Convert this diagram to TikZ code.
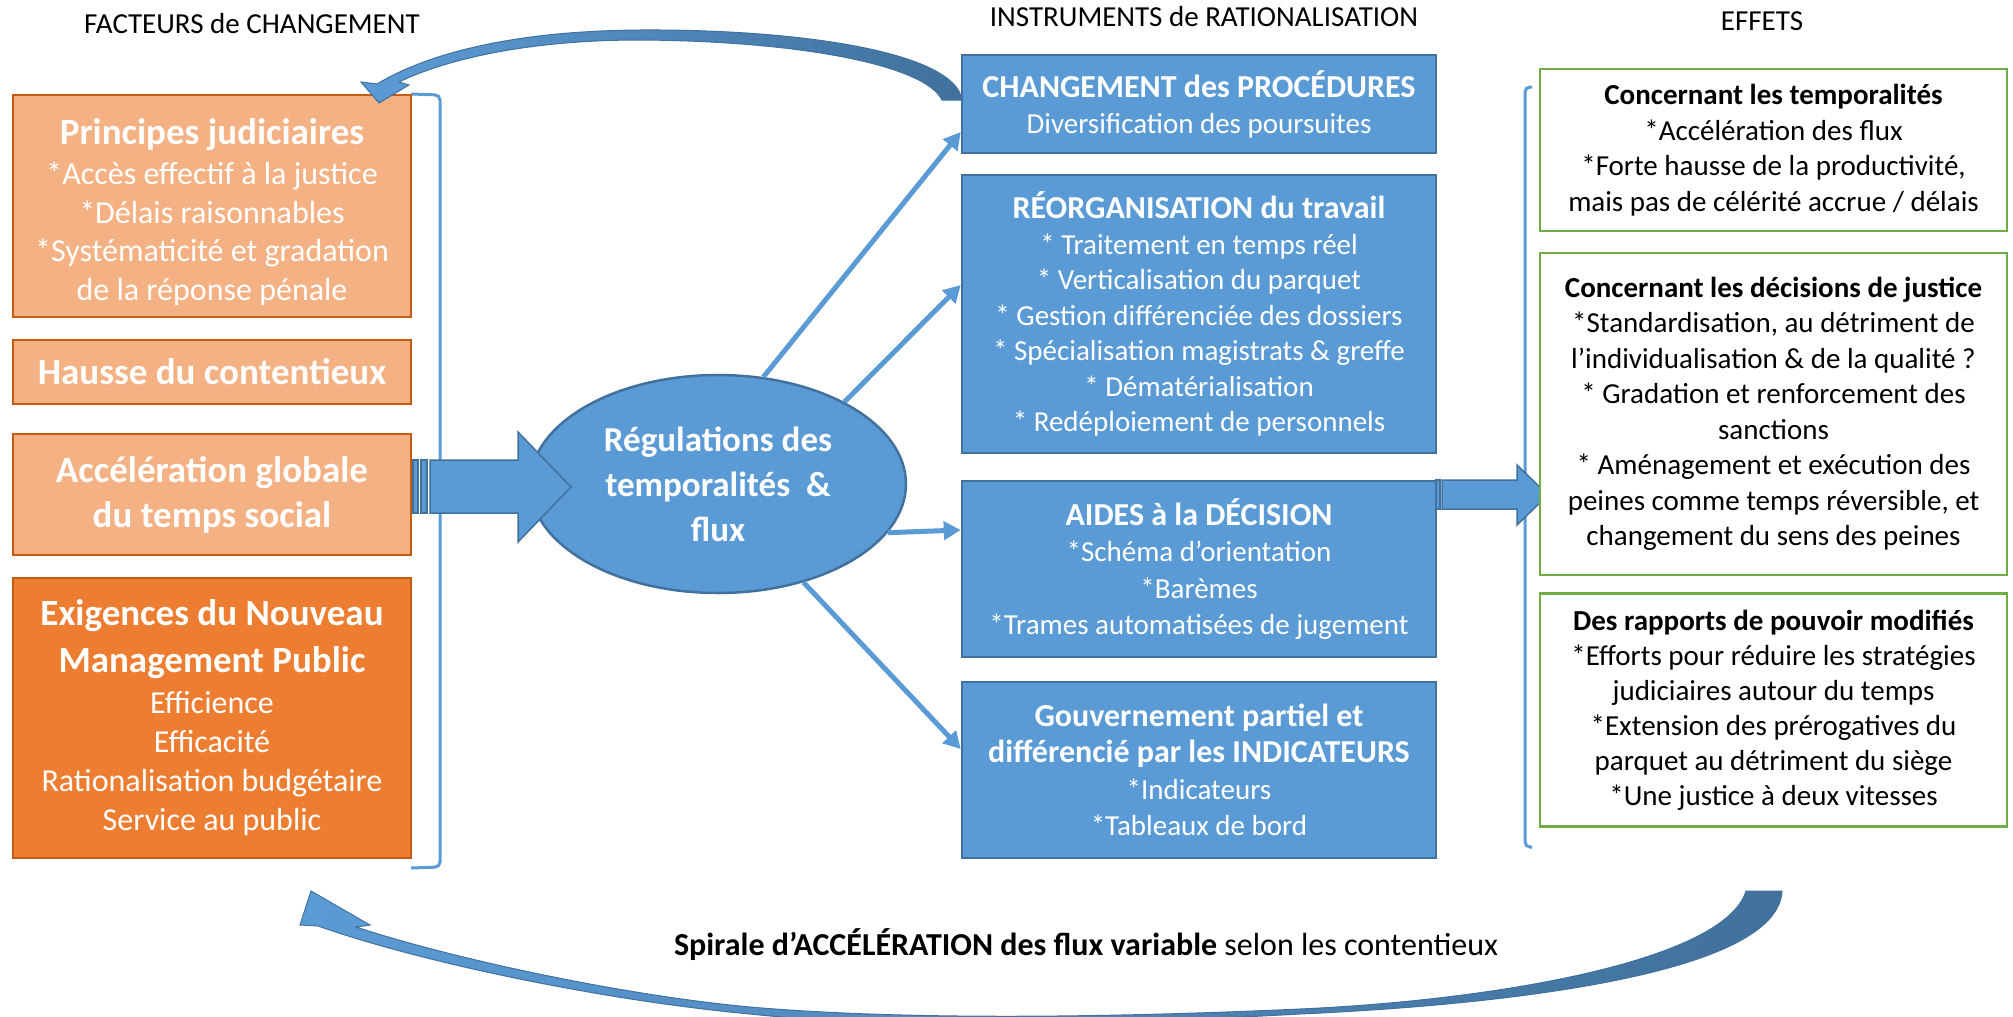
\documentclass[tikz,border=0pt]{standalone}
\usepackage{fontspec}
\setmainfont{Carlito}
\usetikzlibrary{arrows.meta,shapes.geometric,calc}
\definecolor{bfill}{HTML}{5B9BD5}
\definecolor{bdraw}{HTML}{41719C}
\definecolor{olight}{HTML}{F4B183}
\definecolor{odark}{HTML}{ED7D31}
\definecolor{odraw}{HTML}{C55A11}
\definecolor{gdraw}{HTML}{70AD47}
\begin{document}
\begin{tikzpicture}[x=1pt,y=-1pt,
  lbox/.style={draw=odraw, line width=2.5pt, fill=olight, text=white, align=center, inner sep=0pt, minimum width=398pt},
  dbox/.style={lbox, fill=odark},
  bbox/.style={draw=bdraw, line width=2.5pt, fill=bfill, text=white, align=center, inner sep=0pt, minimum width=474pt},
  gbox/.style={draw=gdraw, line width=2.5pt, fill=white, text=black, align=center, inner sep=0pt, minimum width=467pt},
  conn/.style={draw=bfill, line width=5pt, -{Triangle[length=17pt,width=18pt]}},
  brk/.style={draw=bfill, line width=3pt, rounded corners=5pt},
  bigarr/.style={fill=bfill, draw=bdraw, line width=1.5pt, line join=miter},
  hdr/.style={anchor=base, font=\fontsize{29}{35}\selectfont},
  ltitle/.style={font=\fontsize{37}{44}\selectfont\bfseries}
]
\useasboundingbox (0,0) rectangle (2013,1017);
\clip (0,0) rectangle (2013,1017);
\fill[white] (0,0) rectangle (2013,1017);

% headers
\node[hdr] (h1) at (252,33) {FACTEURS de CHANGEMENT};
\node[hdr] (h2) at (1204,26) {INSTRUMENTS de RATIONALISATION};
\node[hdr] (h3) at (1762,30) {EFFETS};

% brackets
\draw[brk] (411,94) -- (440,95) -- (440,867) -- (411,868);
\draw[brk] (1532,87) -- (1525,87) -- (1525,847) -- (1532,847);

% left column
\node[lbox, minimum height=222pt] (p1) at (212,206) {};
\node[text=white, align=center, inner sep=0pt, font=\fontsize{32}{38.5}\selectfont] (p1t) at (212,212)
  {{\fontsize{37}{44}\selectfont\bfseries Principes judiciaires}\\[2pt]
   *Accès effectif à la justice\\ *Délais raisonnables\\ *Systématicité et gradation\\ de la réponse pénale};
\node[lbox, minimum height=64pt, ltitle] (p2) at (212,372) {Hausse du contentieux};
\node[lbox, minimum height=121pt, font=\fontsize{37}{45}\selectfont\bfseries] (p3) at (212,494.5)
  {Accélération globale\\ du temps social};
\node[dbox, minimum height=280pt, font=\fontsize{32}{39}\selectfont] (p4) at (212,718)
  {{\fontsize{37}{44}\selectfont\bfseries Exigences du Nouveau}\\[8pt]
   {\fontsize{37}{44}\selectfont\bfseries Management Public}\\[2pt]
   Efficience\\ Efficacité\\ Rationalisation budgétaire\\ Service au public};

% ellipse
\node[ellipse, draw=bdraw, fill=bfill, line width=2.5pt, minimum width=376pt, minimum height=218pt,
  text=white, align=center, inner sep=0pt, font=\fontsize{35}{45}\selectfont\bfseries] (ell) at (718,484)
  {Régulations des\\ temporalités\ \ \&\\ flux};

% big arrow left -> ellipse
\draw[bigarr] (413,460) rectangle (418,513);
\draw[bigarr] (421,460) rectangle (427,513);
\draw[bigarr] (430,460) -- (518,460) -- (518,432) -- (571,487) -- (518,542) -- (518,513) -- (430,513) -- cycle;

% blue boxes
\node[bbox, minimum height=98pt, font=\fontsize{29}{36}\selectfont] (bA) at (1199,104)
  {{\fontsize{32}{38}\selectfont\bfseries CHANGEMENT des PROCÉDURES}\\
   Diversification des poursuites};
\node[bbox, minimum height=278pt, font=\fontsize{29}{35.5}\selectfont] (bB) at (1199,314)
  {{\fontsize{32}{38}\selectfont\bfseries RÉORGANISATION du travail}\\
   * Traitement en temps réel\\ * Verticalisation du parquet\\ * Gestion différenciée des dossiers\\
   * Spécialisation magistrats \& greffe\\ * Dématérialisation\\ * Redéploiement de personnels};
\node[bbox, minimum height=176pt, font=\fontsize{29}{36.5}\selectfont] (bC) at (1199,569)
  {{\fontsize{32}{38}\selectfont\bfseries AIDES à la DÉCISION}\\
   *Schéma d’orientation\\ *Barèmes\\ *Trames automatisées de jugement};
\node[bbox, minimum height=176pt, font=\fontsize{29}{36.5}\selectfont] (bD) at (1199,770)
  {{\fontsize{32}{38}\selectfont\bfseries Gouvernement partiel et}\\
   {\fontsize{32}{38}\selectfont\bfseries différencié par les INDICATEURS}\\
   *Indicateurs\\ *Tableaux de bord};

% thin connectors
\draw[conn] (ell.67) -- ([yshift=-28pt]bA.west);
\draw[conn] (ell.33) -- ([yshift=29pt]bB.west);
\draw[conn] (ell.-16) -- ([yshift=39pt]bC.west);
\draw[conn] (ell.-49) -- ([yshift=21pt]bD.west);

% big arrow C -> effects
\draw[bigarr] (1436,480) rectangle (1440,509);
\draw[bigarr] (1442,480) -- (1517,480) -- (1517,465) -- (1548,495) -- (1517,525) -- (1517,509) -- (1442,509) -- cycle;

% green boxes
\node[gbox, minimum height=162pt, font=\fontsize{29}{35.5}\selectfont] (g1) at (1773.5,150)
  {\textbf{Concernant les temporalités}\\ *Accélération des flux\\ *Forte hausse de la productivité,\\ mais pas de célérité accrue / délais};
\node[gbox, minimum height=322pt, font=\fontsize{29}{35.5}\selectfont] (g2) at (1773.5,414)
  {\textbf{Concernant les décisions de justice}\\ *Standardisation, au détriment de\\ l’individualisation \& de la qualité ?\\
   * Gradation et renforcement des\\ sanctions\\ * Aménagement et exécution des\\ peines comme temps réversible, et\\ changement du sens des peines};
\node[gbox, minimum height=233pt, font=\fontsize{29}{35}\selectfont] (g3) at (1773.5,710)
  {\textbf{Des rapports de pouvoir modifiés}\\ *Efforts pour réduire les stratégies\\ judiciaires autour du temps\\
   *Extension des prérogatives du\\ parquet au détriment du siège\\ *Une justice à deux vitesses};

% top curved arrow (from procedures back to factors)
\shade[left color=bfill, right color=bdraw, draw=bdraw, line width=1pt]
  (962,100) .. controls (955,52) and (800,29) .. (640,30)
  .. controls (500,31) and (420,58) .. (377,84)
  -- (361,82) -- (379,103) -- (409,85) -- (399,82)
  .. controls (440,62) and (520,40) .. (640,40)
  .. controls (800,41) and (925,65) .. (942,100) -- cycle;

% bottom spiral arrow
\shade[left color=bfill, right color=bdraw, draw=bdraw, line width=1pt]
  (1782,891) .. controls (1778,975) and (1500,1005) .. (1300,1014)
  .. controls (1100,1025) and (900,1030) .. (750,1014)
  .. controls (600,1000) and (420,962) .. (318,926)
  -- (300,925) -- (311,891) -- (370,925) -- (356,927)
  .. controls (450,958) and (620,995) .. (750,1007)
  .. controls (900,1020) and (1100,1018) .. (1300,1009)
  .. controls (1500,1000) and (1725,960) .. (1746,891) -- cycle;

\node[anchor=base, font=\fontsize{32}{38}\selectfont] (spir) at (1086,955)
  {\textbf{Spirale d’ACCÉLÉRATION des flux variable} selon les contentieux};
\end{tikzpicture}
\end{document}
